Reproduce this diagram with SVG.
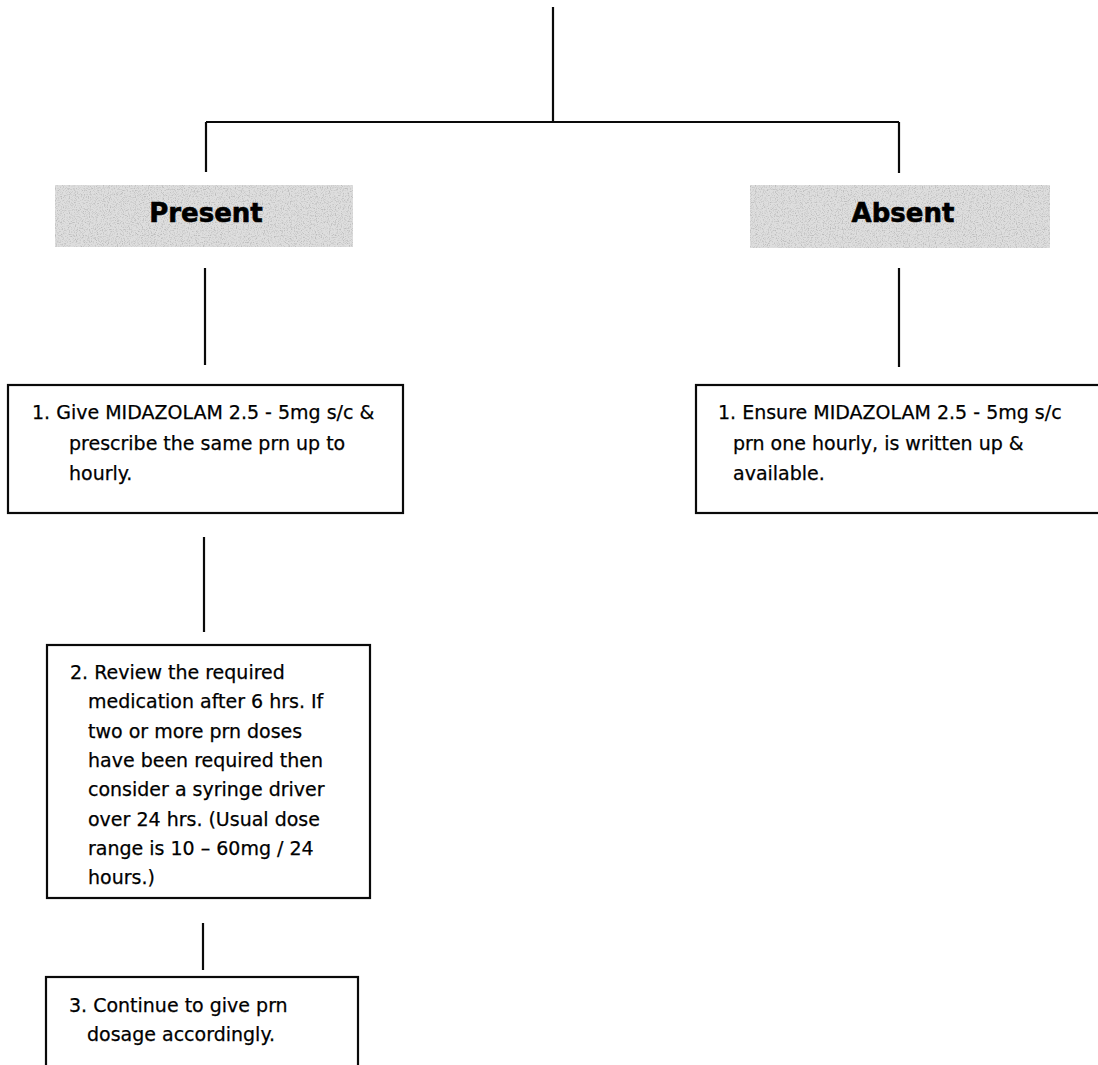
<svg xmlns="http://www.w3.org/2000/svg" width="1098" height="1065" viewBox="0 0 1098 1065">
<style>
.bg{fill:#ffffff}
.box{fill:#ffffff;stroke:#0a0a0a;stroke-width:2.2}
.con{fill:none;stroke:#0a0a0a;stroke-width:2.2}
.t{font-family:"DejaVu Sans",Verdana,sans-serif;font-size:19px;fill:#000;stroke:#000;stroke-width:0.25}
.h{font-family:"DejaVu Sans",Verdana,sans-serif;font-size:26px;font-weight:bold;fill:#000;stroke:#000;stroke-width:0.6;text-anchor:middle}
.shade{fill:#dedede}
</style>
<defs>
<filter id="grain" x="0" y="0" width="100%" height="100%">
<feTurbulence type="fractalNoise" baseFrequency="0.85" numOctaves="2" seed="4" result="n"/>
<feColorMatrix in="n" type="matrix" values="0 0 0 0 0.5  0 0 0 0 0.5  0 0 0 0 0.5  3.2 0 0 0 -1.5" result="dots"/>
<feComposite in="dots" in2="SourceGraphic" operator="in" result="clip"/>
<feMerge><feMergeNode in="SourceGraphic"/><feMergeNode in="clip"/></feMerge>
</filter>
</defs>
<rect class="bg" x="0" y="0" width="1098" height="1065"/>
<g id="connectors">
<path class="con" d="M553 7 V122 M206 122 H899 M206 122 V172 M899 122 V173"/>
<path class="con" d="M205 268 V365"/>
<path class="con" d="M899 268 V367"/>
<path class="con" d="M204 537 V632"/>
<path class="con" d="M203 923 V970"/>
</g>
<g id="present">
<rect class="shade" x="55" y="185" width="298" height="62" filter="url(#grain)"/>
<text class="h" x="206" y="222">Present</text>
</g>
<g id="absent">
<rect class="shade" x="750" y="185" width="300" height="63" filter="url(#grain)"/>
<text class="h" x="903" y="222">Absent</text>
</g>
<g id="step1-present">
<rect class="box" x="8" y="385" width="395" height="128"/>
<text class="t" x="32" y="419">1. Give MIDAZOLAM 2.5 - 5mg s/c &amp;</text>
<text class="t" x="69" y="450">prescribe the same prn up to</text>
<text class="t" x="69" y="480">hourly.</text>
</g>
<g id="step1-absent">
<rect class="box" x="696" y="385" width="420" height="128"/>
<text class="t" x="718" y="419">1. Ensure MIDAZOLAM 2.5 - 5mg s/c</text>
<text class="t" x="733" y="450">prn one hourly, is written up &amp;</text>
<text class="t" x="733" y="480">available.</text>
</g>
<g id="step2">
<rect class="box" x="47" y="645" width="323" height="253"/>
<text class="t" x="70" y="679">2. Review the required</text>
<text class="t" x="88" y="708">medication after 6 hrs. If</text>
<text class="t" x="88" y="738">two or more prn doses</text>
<text class="t" x="88" y="767">have been required then</text>
<text class="t" x="88" y="796">consider a syringe driver</text>
<text class="t" x="88" y="826">over 24 hrs. (Usual dose</text>
<text class="t" x="88" y="855">range is 10 – 60mg / 24</text>
<text class="t" x="88" y="884">hours.)</text>
</g>
<g id="step3">
<rect class="box" x="46" y="977" width="312" height="100"/>
<text class="t" x="69" y="1012">3. Continue to give prn</text>
<text class="t" x="87" y="1041">dosage accordingly.</text>
</g>
</svg>
